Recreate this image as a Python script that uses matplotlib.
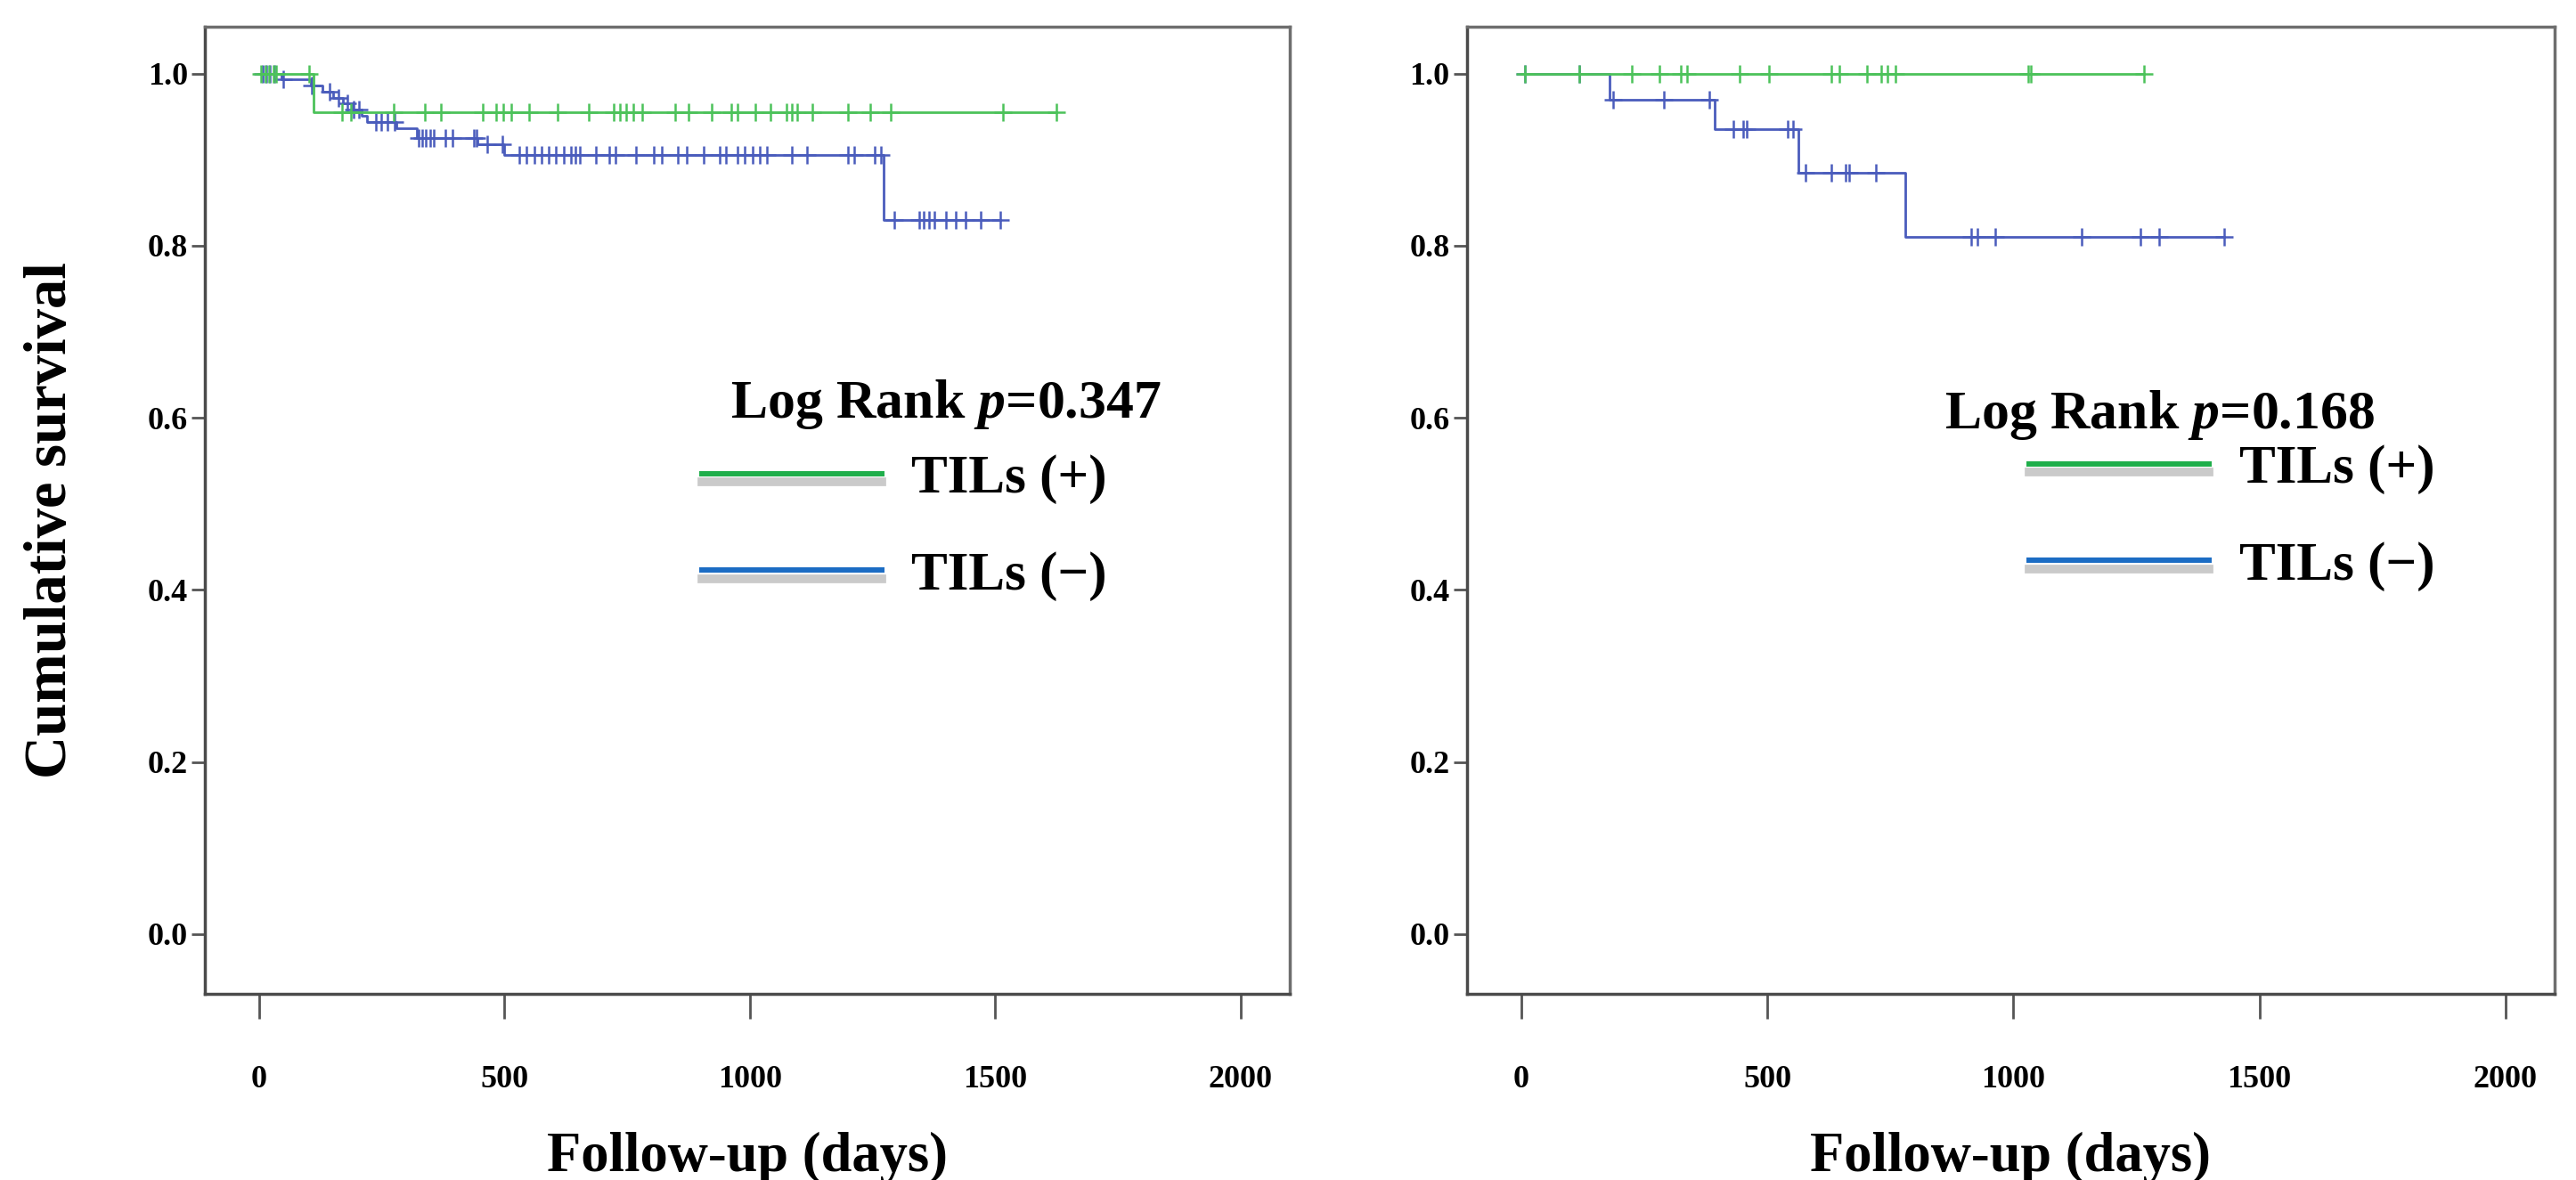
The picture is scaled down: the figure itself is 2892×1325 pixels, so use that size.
import matplotlib
matplotlib.use("Agg")
import matplotlib.pyplot as plt
import matplotlib.patheffects as pe
import numpy as np

plt.rcParams['font.family'] = ['Liberation Serif', 'DejaVu Serif']
plt.rcParams['font.weight'] = 'bold'
plt.rcParams['mathtext.fontset'] = 'custom'
plt.rcParams['mathtext.rm'] = 'Liberation Serif:bold'
plt.rcParams['mathtext.it'] = 'Liberation Serif:bold:italic'
plt.rcParams['mathtext.bf'] = 'Liberation Serif:bold'

# ---- left panel: event times (days) and survival after each event ----
left_pos_events = [110]
left_pos_surv = [0.955]
left_pos_cens = [3, 12, 20, 28, 34, 101, 168, 186, 274, 338, 370, 456, 482, 497,
                 513, 550, 608, 672, 723, 735, 748, 762, 781, 848, 875, 923, 963,
                 975, 1012, 1042, 1075, 1085, 1096, 1127, 1200, 1245, 1287, 1515, 1624]

left_neg_events = [45, 105, 128, 150, 170, 190, 208, 220, 280, 322, 445, 500, 1272]
left_neg_surv = [0.993, 0.986, 0.979, 0.972, 0.965, 0.958, 0.951, 0.944, 0.937,
                 0.925, 0.918, 0.906, 0.83]
left_neg_cens = [7, 15, 22, 30, 49, 107, 143, 161, 180, 192, 203, 237, 249, 261, 276,
                 325, 332, 340, 348, 356, 380, 394, 438, 443, 465, 496, 530, 545, 560,
                 575, 590, 605, 620, 635, 645, 653, 686, 713, 726, 768, 805, 821, 853,
                 872, 905, 939, 951, 975, 990, 1005, 1020, 1035, 1085, 1117, 1200, 1212,
                 1254, 1267, 1294, 1345, 1355, 1365, 1376, 1400, 1420, 1440, 1471, 1511]

# ---- right panel ----
right_pos_events = []
right_pos_surv = []
right_pos_cens = [8, 118, 224, 281, 325, 337, 443, 504, 630, 647, 703, 732, 744, 760,
                  1030, 1036, 1265]

right_neg_events = [180, 394, 563, 780]
right_neg_surv = [0.97, 0.935, 0.885, 0.81]
right_neg_cens = [8, 118, 187, 290, 382, 431, 451, 459, 541, 553, 577, 630, 659, 667,
                  720, 914, 927, 964, 1139, 1258, 1297, 1428]

p_values = ['0.347', '0.168']
labels = ['TILs (+)', 'TILs (\u2212)']
xticks = [0, 500, 1000, 1500, 2000]
yticks = [0.0, 0.2, 0.4, 0.6, 0.8, 1.0]

curve_green = '#4cc25a'
curve_blue = '#4a5cbc'
leg_green = '#1fae4b'
leg_blue = '#1b6cc4'


def km_steps(events, surv, cens):
    # step coordinates for a Kaplan-Meier curve and level at each censor time
    t_end = max(cens + events)
    xs = [0]
    ys = [1.0]
    level = 1.0
    for t, s in zip(events, surv):
        xs += [t, t]
        ys += [level, s]
        level = s
    xs.append(t_end)
    ys.append(level)
    cy = []
    for c in cens:
        lv = 1.0
        for t, s in zip(events, surv):
            if t <= c:
                lv = s
        cy.append(lv)
    return xs, ys, cy


fig = plt.figure(figsize=(28.92, 13.25), dpi=100)
ax1 = fig.add_axes([0.0797, 0.1574, 0.4209, 0.8203])
ax2 = fig.add_axes([0.5695, 0.1574, 0.4222, 0.8203])

panels = [
    (ax1, left_pos_events, left_pos_surv, left_pos_cens,
     left_neg_events, left_neg_surv, left_neg_cens, p_values[0], (960, 0.616), (0.458, 0.558)),
    (ax2, right_pos_events, right_pos_surv, right_pos_cens,
     right_neg_events, right_neg_surv, right_neg_cens, p_values[1], (860, 0.603), (0.517, 0.568)),
]

for ax, pe_, ps, pc, ne, ns, nc, pv, txt_xy, leg_xy in panels:
    x, y, cy = km_steps(ne, ns, nc)
    ax.plot(x, y, color=curve_blue, lw=2)
    ax.plot(nc, cy, '+', color=curve_blue, ms=15, mew=1.8)
    x, y, cy = km_steps(pe_, ps, pc)
    ax.plot(x, y, color=curve_green, lw=2)
    ax.plot(pc, cy, '+', color=curve_green, ms=15, mew=1.8)

    ax.set_xlim(-110, 2100)
    ax.set_ylim(-0.07, 1.055)
    ax.set_xticks(xticks)
    ax.set_yticks(yticks)
    ax.set_yticklabels([f'{v:.1f}' for v in yticks])
    ax.tick_params(axis='x', length=20, width=2, color='#555555', pad=37, labelsize=26)
    ax.tick_params(axis='y', length=11, width=2, color='#555555', pad=3, labelsize=26)
    ax.spines['left'].set_color('#4a4a4a')
    ax.spines['bottom'].set_color('#4a4a4a')
    ax.spines['top'].set_color('#6e6e6e')
    ax.spines['right'].set_color('#6e6e6e')
    for s in ax.spines.values():
        s.set_linewidth(2.5)
    ax.set_xlabel('Follow-up (days)', fontsize=45, fontweight='bold')
    ax.xaxis.set_label_coords(0.5, -0.142)

    ax.text(txt_xy[0], txt_xy[1], 'Log Rank $p$=' + pv, fontsize=44.5,
            fontweight='bold', va='center', ha='left')

    shadow = [pe.SimpleLineShadow(offset=(0, -7), shadow_color='#8a8a8a', alpha=0.45,
                                  linewidth=7),
              pe.Normal()]
    h1, = ax.plot([], [], color=leg_green, lw=4.3, path_effects=shadow)
    h2, = ax.plot([], [], color=leg_blue, lw=4.3, path_effects=shadow)
    ax.legend([h1, h2], labels, loc='upper left', bbox_to_anchor=leg_xy,
              frameon=False, fontsize=44, handlelength=3.3, handletextpad=0.55,
              labelspacing=0.86, borderpad=0, borderaxespad=0)

ax1.set_ylabel('Cumulative survival', fontsize=48, fontweight='bold')
ax1.yaxis.set_label_coords(-0.117, 0.49)

fig.savefig('out.png', dpi=100)
